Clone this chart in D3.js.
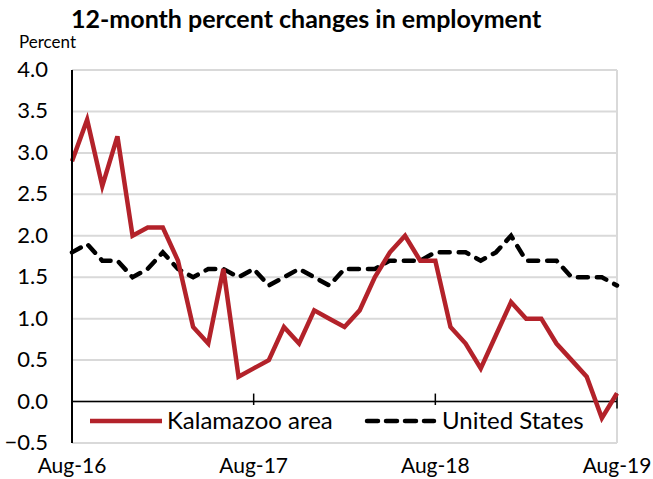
<!DOCTYPE html>
<html>
<head>
<meta charset="utf-8">
<script src="https://cdn.jsdelivr.net/npm/d3@7"></script>
<style>
  body { margin: 0; background: #fff; }
  svg { font-family: Lato, "Open Sans", sans-serif; }
</style>
</head>
<body>
<svg id="chart" width="653" height="479"></svg>
<script>
// monthly, Aug-16 .. Aug-19
const months = d3.range(37);
const kalamazoo = [2.9, 3.4, 2.6, 3.2, 2.0, 2.1, 2.1, 1.7, 0.9, 0.7, 1.6, 0.3,
  0.4, 0.5, 0.9, 0.7, 1.1, 1.0, 0.9, 1.1, 1.5, 1.8, 2.0, 1.7,
  1.7, 0.9, 0.7, 0.4, 0.8, 1.2, 1.0, 1.0, 0.7, 0.5, 0.3, -0.2, 0.1];
const unitedStates = [1.8, 1.9, 1.7, 1.7, 1.5, 1.6, 1.8, 1.6, 1.5, 1.6, 1.6, 1.5,
  1.6, 1.4, 1.5, 1.6, 1.5, 1.4, 1.6, 1.6, 1.6, 1.7, 1.7, 1.7,
  1.8, 1.8, 1.8, 1.7, 1.8, 2.0, 1.7, 1.7, 1.7, 1.5, 1.5, 1.5, 1.4];
const xTickIdx = [0, 12, 24, 36];
const xTickLabels = ["Aug-16", "Aug-17", "Aug-18", "Aug-19"];
const yTicks = [-0.5, 0, 0.5, 1, 1.5, 2, 2.5, 3, 3.5, 4];

const red = "#b3222a";
const plotL = 72, plotR = 617, plotT = 70, plotB = 443;

const svg = d3.select("#chart");
const x = d3.scaleLinear().domain([0, 36]).range([plotL, plotR]);
const y = d3.scaleLinear().domain([-0.5, 4]).range([plotB, plotT]);

svg.append("text")
  .attr("x", 71).attr("y", 28)
  .attr("font-size", 25).attr("font-weight", "bold")
  .text("12-month percent changes in employment");

svg.append("text")
  .attr("x", 19).attr("y", 48)
  .attr("font-size", 17)
  .text("Percent");

// grid
svg.append("g")
  .selectAll("line")
  .data(yTicks)
  .enter().append("line")
    .attr("x1", plotL).attr("x2", plotR)
    .attr("y1", d => y(d)).attr("y2", d => y(d))
    .attr("stroke", "#d9d9d9").attr("stroke-width", 2);

svg.append("line")
  .attr("x1", plotR).attr("x2", plotR)
  .attr("y1", plotT).attr("y2", plotB)
  .attr("stroke", "#d9d9d9").attr("stroke-width", 2);

// y labels
svg.append("g")
  .selectAll("text")
  .data(yTicks)
  .enter().append("text")
    .attr("x", 48).attr("y", d => y(d) + 7)
    .attr("text-anchor", "end")
    .attr("font-size", 22)
    .text(d => d3.format(".1f")(d));

// zero axis with ticks
svg.append("line")
  .attr("x1", plotL).attr("x2", plotR)
  .attr("y1", y(0)).attr("y2", y(0))
  .attr("stroke", "#000").attr("stroke-width", 1.5);

svg.append("g")
  .selectAll("line")
  .data(xTickIdx)
  .enter().append("line")
    .attr("x1", d => x(d)).attr("x2", d => x(d))
    .attr("y1", y(0) - 8).attr("y2", y(0) + 7)
    .attr("stroke", "#000").attr("stroke-width", 1.5);

svg.append("g")
  .selectAll("text")
  .data(xTickIdx)
  .enter().append("text")
    .attr("x", d => x(d)).attr("y", 473)
    .attr("text-anchor", "middle")
    .attr("font-size", 21)
    .text((d, i) => xTickLabels[i]);

const line = d3.line()
  .x((d, i) => x(months[i]))
  .y(d => y(d));

svg.append("path")
  .datum(unitedStates)
  .attr("d", line)
  .attr("fill", "none")
  .attr("stroke", "#000")
  .attr("stroke-width", 4.5)
  .attr("stroke-dasharray", "10,9")
  .attr("stroke-linecap", "round");

svg.append("path")
  .datum(kalamazoo)
  .attr("d", line)
  .attr("fill", "none")
  .attr("stroke", red)
  .attr("stroke-width", 4.5)
  .attr("stroke-linejoin", "miter");

// legend
const lg = svg.append("g");
lg.append("rect")
  .attr("x", plotL + 1).attr("y", 405)
  .attr("width", 520).attr("height", 36)
  .attr("fill", "#fff");
lg.append("line")
  .attr("x1", 90).attr("x2", 162).attr("y1", 421).attr("y2", 421)
  .attr("stroke", red).attr("stroke-width", 4.5);
lg.append("text")
  .attr("x", 167).attr("y", 429)
  .attr("font-size", 24)
  .text("Kalamazoo area");
lg.append("line")
  .attr("x1", 367).attr("x2", 434).attr("y1", 421).attr("y2", 421)
  .attr("stroke", "#000").attr("stroke-width", 4.5)
  .attr("stroke-dasharray", "11,8")
  .attr("stroke-linecap", "round");
lg.append("text")
  .attr("x", 442).attr("y", 429)
  .attr("font-size", 24)
  .text("United States");

// left axis
svg.append("line")
  .attr("x1", plotL).attr("x2", plotL)
  .attr("y1", plotT).attr("y2", plotB)
  .attr("stroke", "#000").attr("stroke-width", 2);
</script>
</body>
</html>
